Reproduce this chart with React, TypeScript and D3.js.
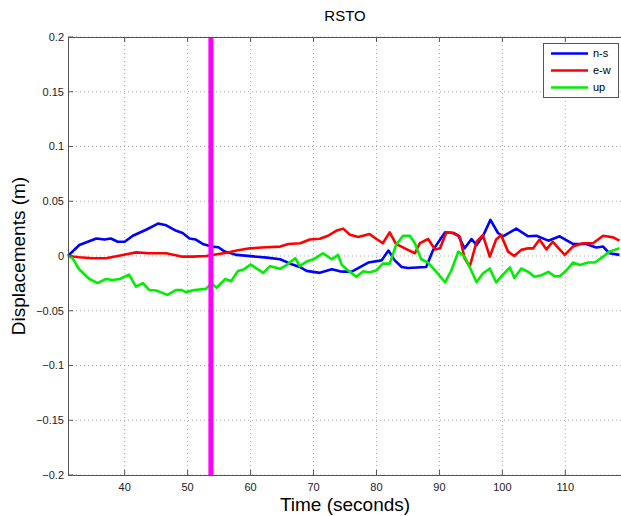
import React, { useEffect, useRef } from 'react';
import * as d3 from 'd3';

// station / event
const title = "RSTO";
const eventTime = 53.7;

// x / y ticks
const xTicks = [40, 50, 60, 70, 80, 90, 100, 110];
const yTicks = [-0.2, -0.15, -0.1, -0.05, 0, 0.05, 0.1, 0.15, 0.2];

// series: [time (s), displacement (m)]
const nsData: [number, number][] = [
  [31, 0], [32.8, 0.010], [35.5, 0.016], [36.8, 0.015], [37.8, 0.016], [38.9, 0.013], [40, 0.013],
  [41.3, 0.0185], [43.4, 0.024], [45.3, 0.0296], [46.6, 0.028], [48.2, 0.023], [49.2, 0.021],
  [50.3, 0.016], [51.3, 0.015], [52.4, 0.011], [53.8, 0.0086], [54.9, 0.008], [55.9, 0.004],
  [57.8, 0.001], [62.6, -0.0015], [64.7, -0.003], [66.3, -0.007], [67.8, -0.010], [68.9, -0.0136],
  [71, -0.0154], [72.9, -0.012], [74.2, -0.014], [76, -0.0145], [78.7, -0.006], [80.8, -0.004],
  [81.9, 0.005], [82.9, -0.004], [84, -0.010], [85, -0.011], [87.9, -0.010], [89, 0.0056],
  [90.9, 0.0216], [92.2, 0.021], [93, 0.0185], [94, 0.007], [95.1, 0.0155], [95.9, 0.010],
  [96.9, 0.018], [98.1, 0.033], [99.3, 0.021], [100.1, 0.018], [102.2, 0.025], [104.1, 0.018],
  [105.4, 0.0185], [107.3, 0.014], [109.1, 0.018], [111.2, 0.011], [113.3, 0.011], [114.9, 0.0077],
  [116, 0.0086], [117, 0.0025], [118.6, 0.001]
];

const ewData: [number, number][] = [
  [31, 0], [32.8, -0.0012], [34.9, -0.002], [37, -0.002], [38.9, 0], [40.7, 0.002], [41.8, 0.0033],
  [43.9, 0.0025], [46.6, 0.0025], [49.2, -0.0006], [50.8, -0.0006], [52.9, 0], [56.2, 0.003],
  [57.8, 0.005], [59.9, 0.007], [62.5, 0.008], [64.7, 0.0086], [66, 0.011], [67.9, 0.0117],
  [69.4, 0.015], [71, 0.0157], [72.3, 0.0185], [73.6, 0.023], [74.7, 0.025], [75.8, 0.0194],
  [77.1, 0.0173], [78.9, 0.020], [80, 0.0155], [81, 0.0117], [82.1, 0.0216], [83.1, 0.011],
  [84.5, 0.007], [86.1, 0.0025], [86.9, 0.0117], [88.2, 0.0155], [89.3, 0.006], [90.1, 0.007],
  [91.1, 0.0216], [92.2, 0.021], [93.2, 0.018], [94, -0.002], [94.8, -0.010], [95.9, 0.013],
  [96.9, 0.019], [98, -0.0006], [99, 0.015], [99.8, 0.019], [100.9, 0.004], [101.9, 0],
  [103, 0.0056], [104.1, 0.007], [104.9, 0.007], [105.9, 0.015], [107, 0.006], [108, 0.013],
  [109.9, 0.001], [111.2, 0.0086], [112.8, 0.0117], [114.4, 0.0117], [116, 0.0185], [117.6, 0.017],
  [118.6, 0.014]
];

const upData: [number, number][] = [
  [31, 0], [31.7, -0.002], [32.8, -0.0123], [34.4, -0.021], [35.7, -0.0247], [37, -0.021],
  [38.1, -0.022], [39.2, -0.021], [40.7, -0.017], [41.8, -0.028], [42.9, -0.0247], [43.9, -0.031],
  [45, -0.0315], [46.8, -0.0355], [48.2, -0.031], [49, -0.031], [49.7, -0.033], [51.1, -0.031],
  [52.9, -0.030], [53.8, -0.025], [54.6, -0.029], [56, -0.021], [56.9, -0.023], [58, -0.0136],
  [58.9, -0.0123], [60, -0.0077], [62, -0.0154], [63.1, -0.0093], [64.7, -0.0117], [65.7, -0.0083],
  [67.1, -0.002], [67.8, -0.0093], [68.9, -0.005], [70, -0.003], [71.5, 0.0025], [72.9, -0.003],
  [73.9, 0.001], [74.5, -0.0083], [75.8, -0.0145], [76.8, -0.019], [77.9, -0.014], [78.9, -0.015],
  [80, -0.013], [81, -0.007], [82.1, -0.007], [83.1, 0.010], [84.2, 0.0185], [85.3, 0.0185],
  [86.1, 0.0117], [87.1, -0.003], [88.2, -0.006], [89.5, -0.0145], [90.9, -0.024], [91.9, -0.013],
  [93, 0.004], [94, -0.0006], [94.8, -0.010], [95.9, -0.024], [96.9, -0.016], [98, -0.0114],
  [99, -0.024], [100.1, -0.017], [101.2, -0.0105], [101.9, -0.020], [103, -0.0114], [104.1, -0.0145],
  [105.1, -0.019], [106.2, -0.0176], [107.3, -0.0145], [108.3, -0.0185], [109.1, -0.0185],
  [110.2, -0.013], [111.2, -0.006], [112.3, -0.0083], [113.6, -0.006], [114.7, -0.006],
  [116, -0.0006], [117, 0.004], [118.6, 0.007]
];

const seriesNames = ["n-s", "e-w", "up"];
const seriesColors = ["#0000ff", "#ff0000", "#00ee00"];

export default function App() {
  const svgRef = useRef<SVGSVGElement>(null);

  useEffect(() => {
    if (!svgRef.current) return;
    const width = 621;
    const height = 516;
    const left = 68, right = 622, top = 37, bottom = 475;

    const svg = d3.select(svgRef.current);
    svg.selectAll('*').remove();

    const x = d3.scaleLinear().domain([31, 119]).range([left, right]);
    const y = d3.scaleLinear().domain([-0.2, 0.2]).range([bottom, top]);
    const font = "'Liberation Sans', Arial, sans-serif";

    svg.append("rect").attr("width", width).attr("height", height).attr("fill", "#fff");

    // grid (dotted)
    xTicks.forEach(t => {
      svg.append("line")
        .attr("x1", x(t)).attr("x2", x(t)).attr("y1", top).attr("y2", bottom)
        .attr("stroke", "#aaa").attr("stroke-width", 1).attr("stroke-dasharray", "1,3");
    });
    yTicks.forEach(v => {
      svg.append("line")
        .attr("x1", left).attr("x2", right).attr("y1", y(v)).attr("y2", y(v))
        .attr("stroke", "#aaa").attr("stroke-width", 1).attr("stroke-dasharray", "1,3");
    });

    // series
    const line = d3.line<[number, number]>()
      .x(d => x(d[0]))
      .y(d => y(d[1]));

    [nsData, ewData, upData].forEach((data, i) => {
      svg.append("path")
        .datum(data)
        .attr("d", line as any)
        .attr("fill", "none")
        .attr("stroke", seriesColors[i])
        .attr("stroke-width", 2.6)
        .attr("stroke-linejoin", "round");
    });

    // event marker
    svg.append("line")
      .attr("x1", x(eventTime)).attr("x2", x(eventTime))
      .attr("y1", top).attr("y2", bottom)
      .attr("stroke", "#ff00ff").attr("stroke-width", 5);

    // axes box + ticks
    svg.append("rect")
      .attr("x", left + 0.5).attr("y", top + 0.5)
      .attr("width", right - left).attr("height", bottom - top)
      .attr("fill", "none").attr("stroke", "#555").attr("stroke-width", 1);

    xTicks.forEach(t => {
      svg.append("line").attr("x1", x(t)).attr("x2", x(t)).attr("y1", bottom).attr("y2", bottom - 5)
        .attr("stroke", "#555");
      svg.append("line").attr("x1", x(t)).attr("x2", x(t)).attr("y1", top).attr("y2", top + 5)
        .attr("stroke", "#555");
      svg.append("text")
        .attr("x", x(t)).attr("y", bottom + 16)
        .attr("text-anchor", "middle")
        .style("font-family", font).style("font-size", "11px").attr("fill", "#222")
        .text(t);
    });
    yTicks.forEach(v => {
      svg.append("line").attr("x1", left).attr("x2", left + 5).attr("y1", y(v)).attr("y2", y(v))
        .attr("stroke", "#555");
      svg.append("text")
        .attr("x", left - 4).attr("y", y(v)).attr("dy", "0.35em")
        .attr("text-anchor", "end")
        .style("font-family", font).style("font-size", "11px").attr("fill", "#222")
        .text(d3.format("")(v));
    });

    // title and labels
    svg.append("text")
      .attr("x", (left + right) / 2).attr("y", 21)
      .attr("text-anchor", "middle")
      .style("font-family", font).style("font-size", "15px").attr("fill", "#000")
      .text(title);

    svg.append("text")
      .attr("x", (left + right) / 2).attr("y", 511)
      .attr("text-anchor", "middle")
      .style("font-family", font).style("font-size", "19px").attr("fill", "#000")
      .text("Time (seconds)");

    svg.append("text")
      .attr("transform", `translate(25, ${(top + bottom) / 2}) rotate(-90)`)
      .attr("text-anchor", "middle")
      .style("font-family", font).style("font-size", "19px").attr("fill", "#000")
      .text("Displacements (m)");

    // legend
    const lg = svg.append("g").attr("transform", "translate(543, 43)");
    lg.append("rect")
      .attr("x", 0.5).attr("y", 0.5).attr("width", 75).attr("height", 54)
      .attr("fill", "#fff").attr("stroke", "#555");
    seriesNames.forEach((name, i) => {
      const ly = 10.5 + i * 17;
      lg.append("line")
        .attr("x1", 8).attr("x2", 45).attr("y1", ly).attr("y2", ly)
        .attr("stroke", seriesColors[i]).attr("stroke-width", 2.6);
      lg.append("text")
        .attr("x", 50).attr("y", ly).attr("dy", "0.35em")
        .style("font-family", font).style("font-size", "11px").attr("fill", "#000")
        .text(name);
    });
  }, []);

  return (
    <svg
      ref={svgRef}
      width={621}
      height={516}
      viewBox="0 0 621 516"
      style={{ position: 'absolute', left: 0, top: 0, display: 'block' }}
    />
  );
}
